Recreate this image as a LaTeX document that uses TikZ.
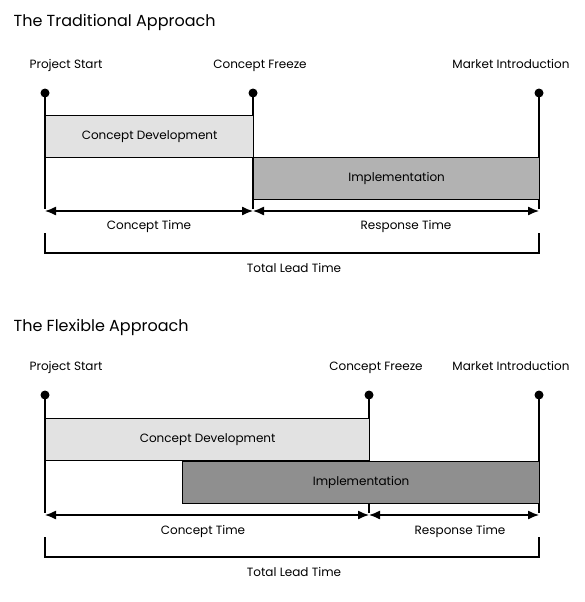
\documentclass[tikz,border=0pt]{standalone}
\usepackage{fontspec}
\usetikzlibrary{arrows.meta}
\setmainfont{Poppins}
\definecolor{cdgray}{RGB}{226,226,226}
\definecolor{imgray}{RGB}{178,178,178}
\definecolor{imdark}{RGB}{143,143,143}
\begin{document}
\begin{tikzpicture}[x=1pt,y=-1pt,line width=1.3pt,>={Latex[length=11pt,width=9pt]},
  ttl/.style={anchor=west,inner sep=0pt,font=\fontsize{16}{18}\selectfont},
  lbl/.style={inner sep=0pt,text height=8.5pt,text depth=2.5pt,font=\fontsize{12}{14}\selectfont},
  dot/.style={circle,fill=black,inner sep=0pt,minimum size=9pt},
  bar/.style={draw,anchor=north west,inner sep=0pt,minimum height=42pt,font=\fontsize{12}{14}\selectfont}]
\useasboundingbox (0,0) rectangle (585,602);
% traditional approach
\node[ttl] (t1) at (13,22) {The Traditional Approach};
\node[lbl] (ps1) at (66,65) {Project Start};
\node[lbl] (cf1) at (260,65) {Concept Freeze};
\node[lbl] (mi1) at (511,65) {Market Introduction};
\node[dot] (d11) at (45,93) {};
\node[dot] (d12) at (253,93) {};
\node[dot] (d13) at (539,93) {};
\coordinate (a11) at (45,211);
\coordinate (a12) at (253,211);
\coordinate (a13) at (539,211);
\draw (d11.center) -- ([yshift=2pt]a11);
\draw (d12.center) -- ([yshift=2pt]a12);
\draw (d13.center) -- ([yshift=2pt]a13);
\node[bar,fill=cdgray,minimum width=208pt] (cd1) at (45,115) {Concept Development};
\node[bar,fill=imgray,minimum width=286pt] (im1) at (253,157) {Implementation};
\draw[<->] (a11) -- (a12);
\draw[<->] (a12) -- (a13);
\node[lbl] (ct1) at (149,226) {Concept Time};
\node[lbl] (rt1) at (406,226) {Response Time};
\coordinate (b11) at (45,233);
\coordinate (b12) at (539,233);
\draw (b11) -- ++(0,20) -| (b12);
\node[lbl] (tl1) at (294,269) {Total Lead Time};
% flexible approach
\node[ttl] (t2) at (13,327) {The Flexible Approach};
\node[lbl] (ps2) at (66,367) {Project Start};
\node[lbl] (cf2) at (376,367) {Concept Freeze};
\node[lbl] (mi2) at (511,367) {Market Introduction};
\node[dot] (d21) at (45,395) {};
\node[dot] (d22) at (369,395) {};
\node[dot] (d23) at (539,395) {};
\coordinate (a21) at (45,515);
\coordinate (a22) at (369,515);
\coordinate (a23) at (539,515);
\draw (d21.center) -- ([yshift=2pt]a21);
\draw (d22.center) -- ([yshift=2pt]a22);
\draw (d23.center) -- ([yshift=2pt]a23);
\node[bar,fill=cdgray,minimum width=324pt] (cd2) at (45,418) {Concept Development};
\node[bar,fill=imdark,minimum width=357pt] (im2) at (182,461) {Implementation};
\draw[<->] (a21) -- (a22);
\draw[<->] (a22) -- (a23);
\node[lbl] (ct2) at (203,531) {Concept Time};
\node[lbl] (rt2) at (460,531) {Response Time};
\coordinate (b21) at (45,537);
\coordinate (b22) at (539,537);
\draw (b21) -- ++(0,20) -| (b22);
\node[lbl] (tl2) at (294,573) {Total Lead Time};
\end{tikzpicture}
\end{document}
